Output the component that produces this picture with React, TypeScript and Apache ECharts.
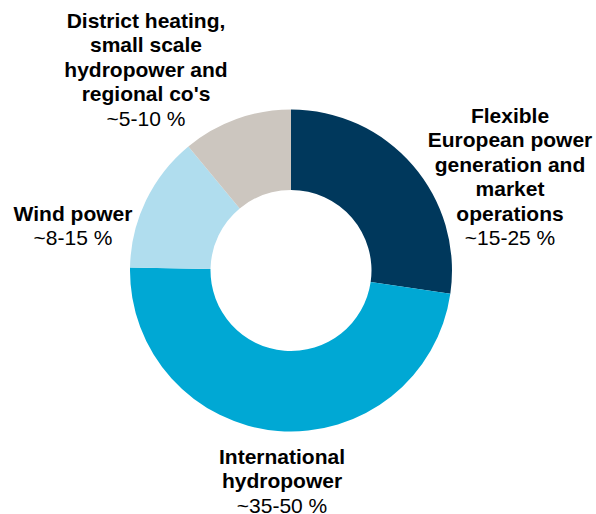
import React, { useEffect, useRef } from "react";
import * as echarts from "echarts";

const categories = [
  "Flexible\nEuropean power\ngeneration and\nmarket\noperations",
  "International\nhydropower",
  "Wind power",
  "District heating,\nsmall scale\nhydropower and\nregional co's",
];
const shareRanges = ["~15-25 %", "~35-50 %", "~8-15 %", "~5-10 %"];
const values = [27.3, 48.0, 13.7, 11.0];

const colors = ["#00385c", "#00a8d4", "#b0ddee", "#ccc6bf"];
// label anchor (centre of text block) for each slice
const labelPos: [number, number][] = [
  [510, 176.5],
  [282, 480.5],
  [73, 225.5],
  [146, 69],
];

export default function App() {
  const ref = useRef<HTMLDivElement>(null);
  useEffect(() => {
    if (!ref.current) return;
    const chart = echarts.init(ref.current, undefined, { renderer: "svg" });
    chart.setOption({
      animation: false,
      backgroundColor: "#ffffff",
      series: [
        {
          type: "pie",
          center: [291, 270.5],
          radius: [80.5, 161],
          startAngle: 90,
          clockwise: true,
          avoidLabelOverlap: false,
          data: categories.map((c, i) => ({
            name: c,
            value: values[i],
            itemStyle: { color: colors[i] },
          })),
          label: {
            show: true,
            position: "outside",
            formatter: (p: any) =>
              `{b|${categories[p.dataIndex]}}\n{p|${shareRanges[p.dataIndex]}}`,
            rich: {
              b: {
                fontFamily: "Liberation Sans, Arial, sans-serif",
                fontWeight: "bold",
                fontSize: 21,
                lineHeight: 24.5,
                color: "#000000",
                align: "center",
              },
              p: {
                fontFamily: "Liberation Sans, Arial, sans-serif",
                fontWeight: "normal",
                fontSize: 21,
                lineHeight: 24.5,
                color: "#000000",
                align: "center",
              },
            },
          },
          labelLine: { show: false },
          labelLayout: (params: any) => ({
            x: labelPos[params.dataIndex][0],
            y: labelPos[params.dataIndex][1],
            align: "center",
            verticalAlign: "middle",
          }),
          emphasis: { disabled: true },
        },
      ],
    });
    return () => chart.dispose();
  }, []);
  return (
    <div
      ref={ref}
      style={{ position: "absolute", left: 0, top: 0, width: 596, height: 514 }}
    />
  );
}
